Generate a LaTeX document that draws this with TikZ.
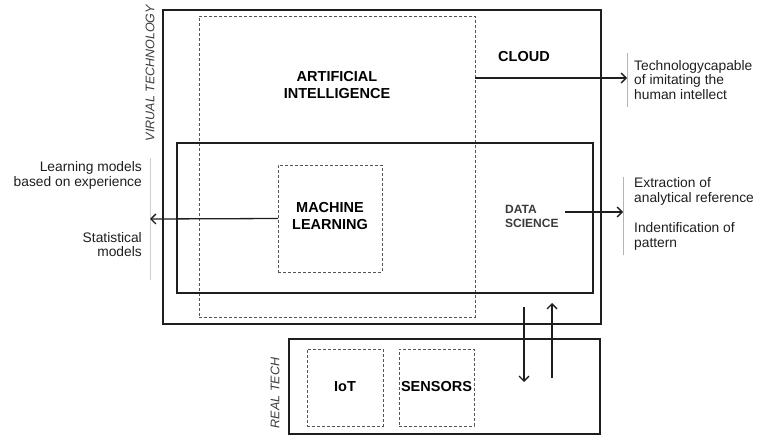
\documentclass[tikz,border=0pt]{standalone}
\usepackage{fontspec}
\setmainfont{Liberation Sans}
\usetikzlibrary{arrows.meta}
\definecolor{ink}{HTML}{1E1E1E}
\definecolor{dashink}{HTML}{555555}
\definecolor{barink}{HTML}{B4B4B4}
\definecolor{sideink}{HTML}{3A3A3A}
\tikzset{
  solidbox/.style={draw=ink, line width=1.3pt, inner sep=0pt, outer sep=0pt},
  dashbox/.style={draw=dashink, line width=0.9pt, dash pattern=on 3pt off 2pt, inner sep=0pt, outer sep=0pt},
  head/.style={font=\fontsize{14.5}{17}\selectfont\bfseries, text=black, align=center, inner sep=0pt},
  smallhead/.style={font=\fontsize{12}{14}\selectfont\bfseries, text=sideink, align=left, inner sep=0pt},
  note/.style={font=\fontsize{13.8}{14.8}\selectfont, text=ink, inner sep=0pt},
  side/.style={font=\fontsize{12.5}{14}\selectfont\itshape, text=sideink, inner sep=0pt, rotate=90},
  bar/.style={draw=barink, line width=0.9pt, inner sep=0pt, outer sep=0pt, minimum width=0pt},
  link/.style={draw=ink, line width=1.3pt, -{Straight Barb[length=5pt,width=10pt,line width=1.3pt]}},
}
\begin{document}
\begin{tikzpicture}[x=1pt,y=-1pt]
\useasboundingbox (0,0) rectangle (762,436);

% virtual technology frame and its inner areas
\node[solidbox, minimum width=438pt, minimum height=314pt] (virtual) at (382,167) {};
\node[dashbox, minimum width=276pt, minimum height=301pt] (ai) at (337,166.5) {};
\node[solidbox, minimum width=416pt, minimum height=150pt] (ds) at (385,218) {};
\node[dashbox, minimum width=104pt, minimum height=107pt] (ml) at (330,218.5) {};

% real technology frame
\node[solidbox, minimum width=311pt, minimum height=95pt] (real) at (444.5,386.5) {};
\node[dashbox, minimum width=76pt, minimum height=77pt] (iot) at (345,387.5) {};
\node[dashbox, minimum width=75pt, minimum height=77pt] (sensors) at (436.5,387.5) {};

% labels inside the frames
\node[head] (ailabel) at (337,85) {ARTIFICIAL\\INTELLIGENCE};
\node[head] (cloudlabel) at (524,57) {CLOUD};
\node[head] (mllabel) at (330,216) {MACHINE\\LEARNING};
\node[smallhead, anchor=west] (dslabel) at (505,216) {DATA\\SCIENCE};
\node[head] (iotlabel) at (345,387) {IoT};
\node[head] (sensorslabel) at (436.5,387) {SENSORS};

% side captions
\node[side] (virtualcap) at (150,73) {VIRUAL TECHNOLOGY};
\node[side] (realcap) at (275,393) {REAL TECH};

% grey brackets beside the notes
\node[bar, minimum height=54pt] (cloudbar) at (627,80) {};
\node[bar, minimum height=122pt] (mlbar) at (150,219) {};
\node[bar, minimum height=78pt] (dsbar) at (623,216) {};

% notes
\node[note, anchor=west, align=left] (cloudnote) at (634,80) {Technologycapable\\of imitating the\\human intellect};
\node[note, anchor=east, align=right] (mlnote1) at (142,175.5) {Learning models\\based on experience};
\node[note, anchor=east, align=right] (mlnote2) at (142,244.5) {Statistical\\models};
\node[note, anchor=west, align=left] (dsnote1) at (634,191.5) {Extraction of\\analytical reference};
\node[note, anchor=west, align=left] (dsnote2) at (634,236.5) {Indentification of\\pattern};

% connectors
\coordinate (cloudout) at (475,78);
\coordinate (dsout) at (565,212);
\coordinate (downstart) at (524,307);
\coordinate (downend) at (524,382);
\coordinate (upstart) at (552,378);
\coordinate (upend) at (552,303);

\draw[link] (cloudout) -- (cloudout -| cloudbar.west);
\draw[link] (ml.west) -- (mlbar.east);
\draw[link] (dsout) -- (dsout -| dsbar.west);
\draw[link] (downstart) -- (downend);
\draw[link] (upstart) -- (upend);
\end{tikzpicture}
\end{document}
